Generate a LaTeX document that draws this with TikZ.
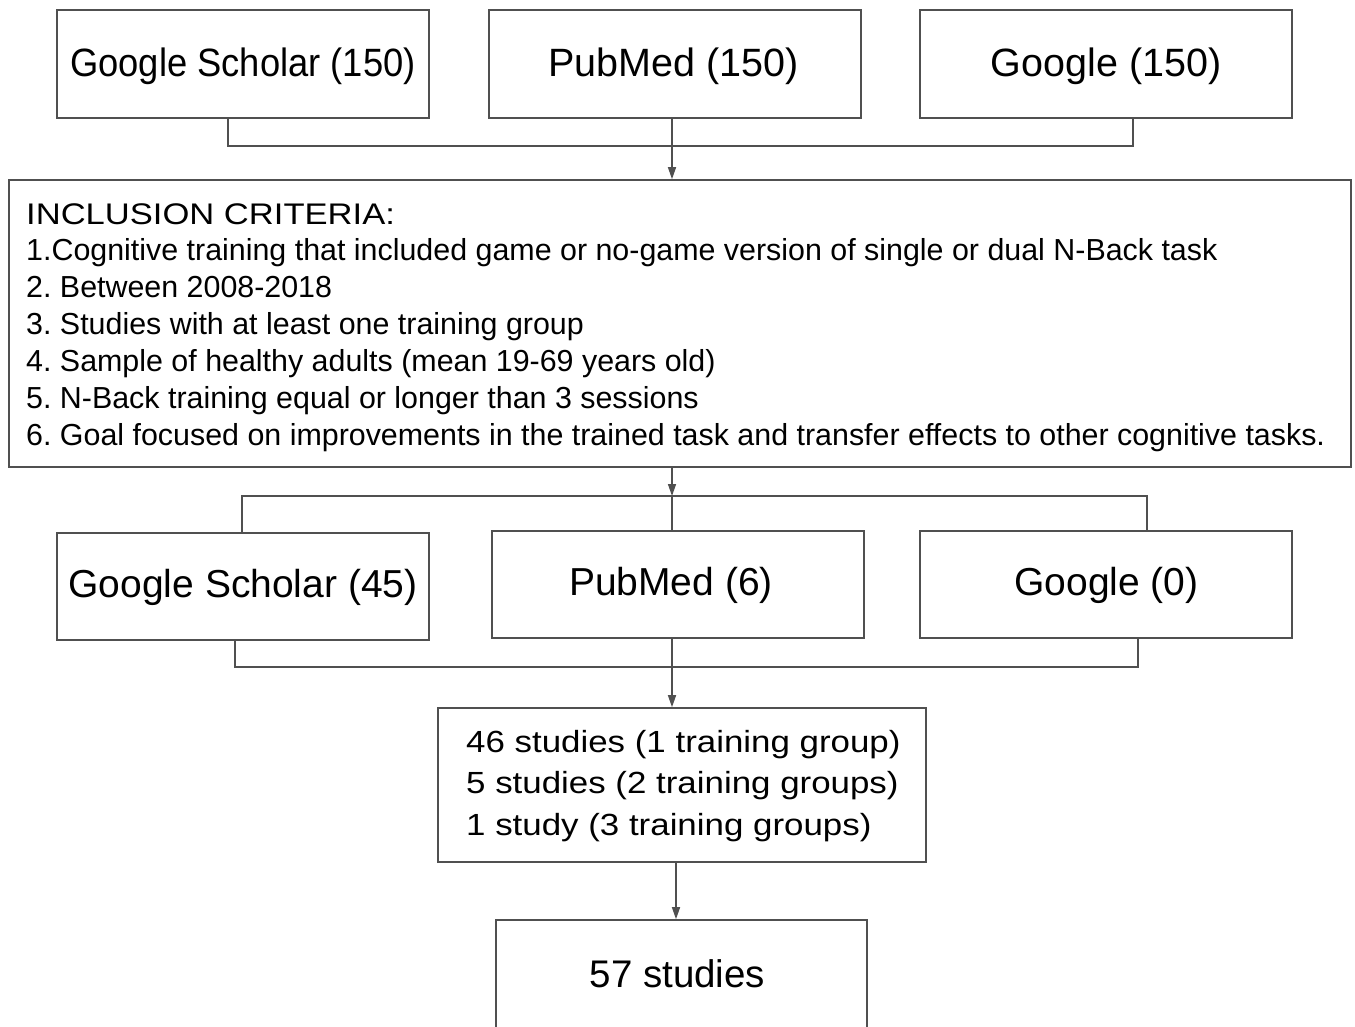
\documentclass[tikz,border=0pt]{standalone}
\usepackage{fontspec}
\setmainfont{Liberation Sans}
\newfontfamily\wideA[FakeStretch=1.16]{Liberation Sans}
\newfontfamily\wideB[FakeStretch=1.14]{Liberation Sans}
\newfontfamily\narrowA[FakeStretch=0.92]{Liberation Sans}
\usetikzlibrary{arrows.meta}
\definecolor{linegray}{HTML}{505050}
\frenchspacing
\tikzset{
  box/.style={draw=linegray, line width=1.6pt, rectangle, inner sep=0pt, fill=white},
  conn/.style={draw=linegray, line width=1.4pt},
  arr/.style={conn, -{Triangle[length=12pt,width=8pt]}},
  txt/.style={inner sep=0pt, text=black},
  bigtxt/.style={txt, font=\fontsize{39.5}{47}\selectfont},
  incltxt/.style={txt, anchor=base west, font=\frenchspacing\fontsize{30.4}{36}\selectfont},
  studtxt/.style={txt, anchor=base west, font=\frenchspacing\wideB\fontsize{30.6}{37}\selectfont},
}
\begin{document}
\begin{tikzpicture}[x=1pt,y=-1pt]
\useasboundingbox (0,0) rectangle (1355,1026);
\clip (0,0) rectangle (1355,1026);
\fill[white] (0,0) rectangle (1355,1026);

% top row
\node[box, minimum width=372pt, minimum height=108pt] (gs1) at (243,64) {};
\node[box, minimum width=372pt, minimum height=108pt] (pm1) at (675,64) {};
\node[box, minimum width=372pt, minimum height=108pt] (g1) at (1106,64) {};
\node[bigtxt, anchor=base, font=\narrowA\fontsize{39.5}{47}\selectfont] (gs1t) at (243,76) {Google Scholar (150)};
\node[bigtxt, anchor=base] (pm1t) at (673.5,76.5) {PubMed (150)};
\node[bigtxt, anchor=base] (g1t) at (1106,76.5) {Google (150)};

% inclusion box
\node[box, minimum width=1342pt, minimum height=287pt] (incl) at (680,323.5) {};
\node[incltxt, font=\wideA\fontsize{29.8}{36}\selectfont] (l0) at (26,224) {INCLUSION CRITERIA:};
\node[incltxt] (l1) at (26,260.9) {1.Cognitive training that included game or no-game version of single or dual N-Back task};
\node[incltxt] (l2) at (26,297.8) {2. Between 2008-2018};
\node[incltxt] (l3) at (26,334.7) {3. Studies with at least one training group};
\node[incltxt] (l4) at (26,371.6) {4. Sample of healthy adults (mean 19-69 years old)};
\node[incltxt] (l5) at (26,408.5) {5. N-Back training equal or longer than 3 sessions};
\node[incltxt] (l6) at (26,445.4) {6. Goal focused on improvements in the trained task and transfer effects to other cognitive tasks.};

% middle row
\node[box, minimum width=372pt, minimum height=107pt] (gs2) at (243,586.5) {};
\node[box, minimum width=372pt, minimum height=107pt] (pm2) at (678,584.5) {};
\node[box, minimum width=372pt, minimum height=107pt] (g2) at (1106,584.5) {};
\node[bigtxt, anchor=base, font=\fontsize{39}{47}\selectfont] (gs2t) at (243,597.5) {Google Scholar (45)};
\node[bigtxt, anchor=base, font=\fontsize{39}{47}\selectfont] (pm2t) at (671,595.5) {PubMed (6)};
\node[bigtxt, anchor=base, font=\fontsize{39}{47}\selectfont] (g2t) at (1106.5,595.5) {Google (0)};

% studies box
\node[box, minimum width=488pt, minimum height=154pt] (st) at (682,785) {};
\node[studtxt] (s1) at (466,752) {46 studies (1 training group)};
\node[studtxt] (s2) at (466,793.5) {5 studies (2 training groups)};
\node[studtxt] (s3) at (466,835) {1 study (3 training groups)};

% final box (cut off at bottom)
\node[box, minimum width=371pt, minimum height=150pt] (fin) at (681.5,995) {};
\node[bigtxt, anchor=base, font=\fontsize{38.5}{46}\selectfont] (fint) at (677.5,987) {57 studies};

% connectors
\coordinate (t1) at (228,146);
\coordinate (t2) at (1133,146);
\coordinate (a1) at (672,146);
\draw[conn] (gs1.south -| t1) -- (t1) -- (t2) -- (g1.south -| t2);
\draw[arr] (pm1.south -| a1) -- (incl.north -| a1);

\coordinate (m) at (672,496);
\coordinate (ml) at (242,496);
\coordinate (mr) at (1147,496);
\draw[arr] (incl.south -| m) -- (m);
\draw[conn] (gs2.north -| ml) -- (ml) -- (mr) -- (g2.north -| mr);
\draw[conn] (m) -- (pm2.north -| m);

\coordinate (bl) at (235,667);
\coordinate (br) at (1138,667);
\draw[conn] (gs2.south -| bl) -- (bl) -- (br) -- (g2.south -| br);
\draw[arr] (pm2.south -| m) -- (st.north -| m);

\coordinate (sb) at (676,890);
\draw[arr] (st.south -| sb) -- (fin.north -| sb);
\end{tikzpicture}
\end{document}
